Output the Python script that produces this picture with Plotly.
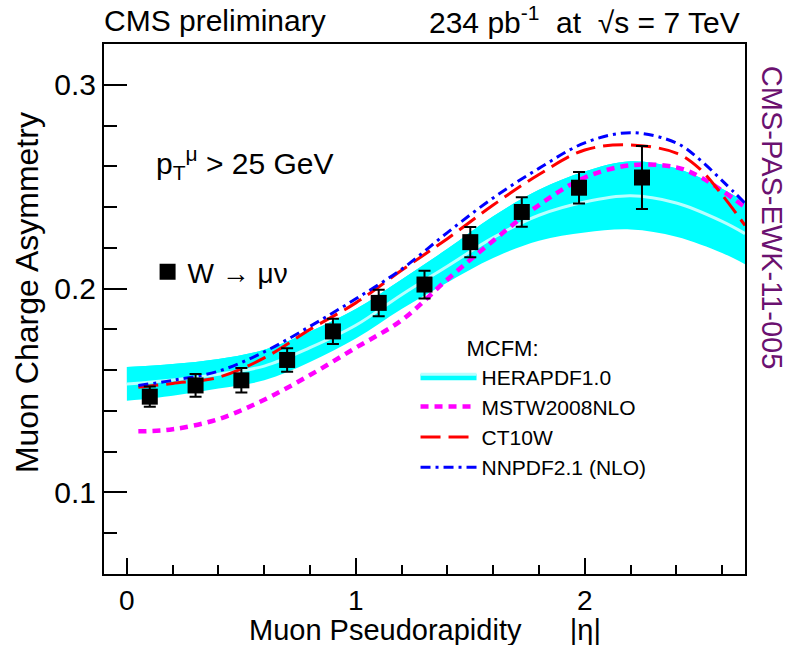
import plotly.graph_objects as go

# ---------------- data ----------------
eta_pts = [0.1, 0.3, 0.5, 0.7, 0.9, 1.1, 1.3, 1.5, 1.725, 1.975, 2.25]
asym = [0.147, 0.1525, 0.155, 0.165, 0.179, 0.193, 0.202, 0.2228, 0.2376, 0.2495, 0.2545]
asym_err = [0.005, 0.0056, 0.006, 0.0058, 0.0062, 0.0065, 0.0068, 0.0074, 0.0072, 0.0077, 0.0155]

eta_band = [0.0, 0.2, 0.4, 0.6, 0.8, 1.0, 1.2, 1.4, 1.6, 1.8, 2.0, 2.2, 2.4, 2.6, 2.7]
hera_up = [0.1615, 0.163, 0.1655, 0.170, 0.179, 0.190, 0.2045, 0.2195, 0.2355, 0.2485, 0.2575, 0.2625, 0.259, 0.249, 0.2425]
hera_lo = [0.145, 0.1475, 0.151, 0.155, 0.164, 0.1755, 0.190, 0.203, 0.215, 0.2235, 0.2275, 0.229, 0.2255, 0.2175, 0.212]
hera_c = [0.1532, 0.1552, 0.158, 0.162, 0.171, 0.182, 0.197, 0.211, 0.225, 0.236, 0.2425, 0.2455, 0.242, 0.233, 0.227]

eta_th = [0.05, 0.2, 0.4, 0.6, 0.8, 1.0, 1.2, 1.4, 1.6, 1.8, 2.0, 2.2, 2.4, 2.5, 2.6, 2.7]
mstw = [0.130, 0.131, 0.136, 0.1455, 0.1576, 0.171, 0.1845, 0.2045, 0.2235, 0.241, 0.2545, 0.2605, 0.2595, 0.255, 0.248, 0.240]
ct10 = [0.1516, 0.1535, 0.1565, 0.166, 0.180, 0.193, 0.209, 0.2245, 0.241, 0.256, 0.268, 0.2705, 0.2665, 0.259, 0.246, 0.231]
nnpdf = [0.1525, 0.155, 0.1595, 0.169, 0.1815, 0.195, 0.2095, 0.2275, 0.2445, 0.259, 0.2715, 0.2765, 0.2715, 0.2635, 0.253, 0.242]

x_range = [-0.1, 2.7]
y_range = [0.06, 0.32]

FONT = "Liberation Sans, Arial, Helvetica, sans-serif"

fig = go.Figure()

# HERAPDF band
fig.add_trace(go.Scatter(x=eta_band, y=hera_lo, mode="lines", line=dict(width=0, shape="spline"),
                         showlegend=False, hoverinfo="skip"))
fig.add_trace(go.Scatter(x=eta_band, y=hera_up, mode="lines", line=dict(width=0, shape="spline"),
                         fill="tonexty", fillcolor="#00ffff", showlegend=False, hoverinfo="skip"))
fig.add_trace(go.Scatter(x=eta_band, y=hera_c, mode="lines", name="HERAPDF1.0",
                         line=dict(width=3, color="#b8ffff", shape="spline"),
                         fill="tonexty", fillcolor="#00ffff", legend="legend"))

fig.add_trace(go.Scatter(x=eta_th, y=mstw, mode="lines", name="MSTW2008NLO",
                         line=dict(width=4.5, color="#ff00ff", dash="8px,6px", shape="spline"),
                         legend="legend"))
fig.add_trace(go.Scatter(x=eta_th, y=ct10, mode="lines", name="CT10W",
                         line=dict(width=3, color="#ff0000", dash="20px,8px", shape="spline"),
                         legend="legend"))
fig.add_trace(go.Scatter(x=eta_th, y=nnpdf, mode="lines", name="NNPDF2.1 (NLO)",
                         line=dict(width=3, color="#0000ff", dash="10px,5px,3px,5px", shape="spline"),
                         legend="legend"))

fig.add_trace(go.Scatter(x=eta_pts, y=asym, mode="markers", name="W → μν",
                         marker=dict(symbol="square", size=16, color="black"),
                         error_y=dict(type="data", array=asym_err, color="black", thickness=2, width=6),
                         legend="legend2"))

tick_common = dict(ticks="inside", tickwidth=2, tickcolor="black", showgrid=False, zeroline=False,
                   automargin=False)
xminor = dict(dtick=0.2, tick0=0, ticklen=9, tickwidth=2, ticks="inside", tickcolor="black", showgrid=False)
yminor = dict(dtick=0.02, tick0=0, ticklen=13, tickwidth=2, ticks="inside", tickcolor="black", showgrid=False)

fig.update_layout(
    width=790, height=645,
    margin=dict(l=104, r=45, t=44, b=71, autoexpand=False),
    paper_bgcolor="white", plot_bgcolor="white",
    font=dict(family=FONT, color="black"),
    xaxis=dict(range=x_range, tick0=0, dtick=1, ticklen=16, minor=xminor,
               showline=True, linewidth=2, linecolor="black", mirror=True,
               tickfont=dict(family=FONT, size=28, color="black"), ticklabelstandoff=0,
               **tick_common),
    xaxis2=dict(range=x_range, overlaying="x", side="top", tick0=0, dtick=1, ticklen=16, minor=xminor,
                showticklabels=False, showline=False, **tick_common),
    yaxis=dict(range=y_range, tick0=0, dtick=0.1, ticklen=23, minor=yminor,
               showline=True, linewidth=2, linecolor="black", mirror=True,
               tickfont=dict(family=FONT, size=30, color="black"), **tick_common),
    yaxis2=dict(range=y_range, overlaying="y", side="right", tick0=0, dtick=0.1, ticklen=23, minor=yminor,
                showticklabels=False, showline=False, **tick_common),
    legend=dict(x=0.486, y=0.465, xanchor="left", yanchor="top", bgcolor="rgba(0,0,0,0)",
                font=dict(size=21, family=FONT), tracegroupgap=0, traceorder="normal", itemwidth=56,
                title=dict(text="&nbsp;&nbsp;&nbsp;&nbsp;&nbsp;&nbsp;&nbsp;&nbsp;MCFM:", font=dict(size=22, family=FONT))),
    legend2=dict(x=0.068, y=0.617, xanchor="left", yanchor="top", bgcolor="rgba(0,0,0,0)",
                 font=dict(size=28, family=FONT)),
    showlegend=True,
)

annotations = [
    dict(text="Muon Pseudorapidity&nbsp;&nbsp;&nbsp;&nbsp;&nbsp;&nbsp;|η|", x=0.5, y=0, xref="paper", yref="paper",
         xanchor="center", yanchor="middle", yshift=-56, showarrow=False, font=dict(size=29, family=FONT)),
    dict(text="Muon Charge Asymmetry", x=0, y=0.53, xref="paper", yref="paper", xanchor="center",
         yanchor="middle", xshift=-77, textangle=-90, showarrow=False, font=dict(size=32, family=FONT)),
    dict(text="CMS preliminary", x=0, y=1, xref="paper", yref="paper", xanchor="left", yanchor="middle",
         xshift=-2, yshift=24, showarrow=False, font=dict(size=30, family=FONT)),
    dict(text="234 pb<sup>-1</sup>  at  √s = 7 TeV", x=1, y=1, xref="paper", yref="paper", xanchor="right",
         yanchor="middle", xshift=-3, yshift=24, showarrow=False, font=dict(size=30, family=FONT)),
    dict(text="p<sub>T</sub><sup>μ</sup> &gt; 25 GeV", x=0.078, y=0.775, xref="paper", yref="paper",
         xanchor="left", yanchor="middle", showarrow=False, font=dict(size=30, family=FONT)),
    dict(text="CMS-PAS-EWK-11-005", x=1, y=0.672, xref="paper", yref="paper", xanchor="center",
         yanchor="middle", xshift=27, textangle=90, showarrow=False,
         font=dict(size=29, family=FONT, color="#6b1170")),
]
fig.update_layout(annotations=annotations)

fig.write_html("out.html")
